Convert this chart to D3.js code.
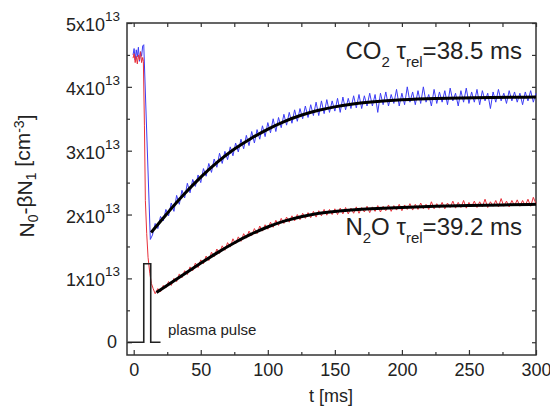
<!DOCTYPE html>
<html>
<head>
<meta charset="utf-8">
<script src="https://cdn.jsdelivr.net/npm/d3@7"></script>
<style>
body { margin: 0; background: #fff; }
text { font-family: "Liberation Sans", Arial, sans-serif; fill: #222; }
</style>
</head>
<body>
<div id="chart"></div>
<script>
// values in units of 1e13 cm^-3, time in ms
var bluePreT = [-0.5, 0.3, 1.1, 1.9, 2.7, 3.5, 4.3, 5.1, 5.9, 6.7, 7.5, 12.4],
    bluePreV = [4.50, 4.60, 4.42, 4.58, 4.47, 4.62, 4.40, 4.55, 4.48, 4.64, 4.66, 1.61];
var redPreT = [-0.5, 0.3, 1.1, 1.9, 2.7, 3.5, 4.3, 5.1, 5.9, 6.7, 7.2, 8.0, 8.7, 9.7, 10.7, 12.0, 13.2, 14.5],
    redPreV = [4.45, 4.52, 4.38, 4.48, 4.36, 4.50, 4.42, 4.55, 4.38, 4.46, 4.40, 3.40, 2.22, 1.70, 1.33, 1.08, 0.92, 0.84];

// noisy recordings, one sample every 2 ms
var blueStart = 14, redStart = 16, sampleStep = 2;
var blueV = [
    1.68, 1.86, 1.78, 1.97, 1.90, 2.08, 1.98, 2.18, 2.05, 2.30,
    2.16, 2.38, 2.26, 2.49, 2.34, 2.55, 2.44, 2.62, 2.50, 2.72,
    2.60, 2.80, 2.66, 2.87, 2.74, 2.96, 2.80, 2.99, 2.86, 3.06,
    2.92, 3.12, 2.98, 3.18, 3.03, 3.24, 3.08, 3.30, 3.12, 3.33,
    3.18, 3.39, 3.22, 3.44, 3.28, 3.50, 3.30, 3.52, 3.36, 3.57,
    3.40, 3.60, 3.43, 3.64, 3.46, 3.66, 3.50, 3.70, 3.52, 3.72,
    3.55, 3.76, 3.55, 3.78, 3.58, 3.80, 3.60, 3.78, 3.62, 3.82,
    3.60, 3.84, 3.64, 3.82, 3.66, 3.86, 3.67, 3.88, 3.66, 3.86,
    3.70, 3.90, 3.70, 3.88, 3.60, 3.90, 3.72, 3.92, 3.70, 3.88,
    3.74, 3.96, 3.70, 3.90, 3.72, 4.00, 3.76, 3.92, 3.72, 3.94,
    3.74, 4.00, 3.76, 3.88, 3.70, 3.96, 3.74, 3.92, 3.76, 3.94,
    3.72, 3.98, 3.78, 3.90, 3.70, 3.94, 3.76, 3.98, 3.74, 3.92,
    3.76, 3.96, 3.72, 3.94, 3.78, 3.90, 3.66, 3.92, 3.76, 3.96,
    3.78, 3.90, 3.74, 3.94, 3.78, 3.92, 3.76, 3.90, 3.72, 3.92,
    3.78, 3.94, 3.76, 3.90];
var redV = [
    0.76, 0.84, 0.79, 0.89, 0.85, 0.95, 0.89, 1.00, 0.95, 1.07,
    1.01, 1.12, 1.06, 1.18, 1.12, 1.24, 1.17, 1.29, 1.23, 1.35,
    1.28, 1.41, 1.34, 1.46, 1.39, 1.51, 1.44, 1.56, 1.49, 1.62,
    1.54, 1.65, 1.58, 1.70, 1.63, 1.74, 1.67, 1.78, 1.70, 1.82,
    1.74, 1.84, 1.77, 1.88, 1.80, 1.91, 1.83, 1.94, 1.86, 1.96,
    1.88, 1.98, 1.90, 2.00, 1.92, 2.02, 1.94, 2.03, 1.95, 2.05,
    1.96, 2.06, 1.98, 2.08, 1.99, 2.08, 2.00, 2.09, 2.00, 2.10,
    2.01, 2.11, 2.01, 2.10, 2.02, 2.12, 2.02, 2.11, 2.04, 2.13,
    2.03, 2.12, 2.05, 2.14, 2.04, 2.13, 2.06, 2.15, 2.05, 2.14,
    2.07, 2.16, 2.06, 2.15, 2.08, 2.17, 2.07, 2.16, 2.08, 2.18,
    2.09, 2.16, 2.08, 2.20, 2.09, 2.17, 2.10, 2.19, 2.09, 2.18,
    2.11, 2.21, 2.10, 2.19, 2.11, 2.22, 2.10, 2.19, 2.12, 2.21,
    2.11, 2.20, 2.12, 2.24, 2.11, 2.20, 2.13, 2.22, 2.12, 2.25,
    2.13, 2.21, 2.12, 2.22, 2.14, 2.23, 2.13, 2.22, 2.14, 2.24,
    2.13, 2.27, 2.17];

// exponential fits
var blueFitT = [13, 25, 37, 50, 62, 75, 87, 100, 112, 125, 137, 150, 162, 175, 200, 225, 250, 300],
    blueFitV = [1.72, 2.02, 2.31, 2.59, 2.82, 3.03, 3.19, 3.34, 3.46, 3.56, 3.63, 3.69, 3.73, 3.76, 3.80, 3.82, 3.83, 3.84];
var redFitT = [17, 25, 37, 50, 62, 75, 87, 100, 112, 125, 137, 150, 162, 175, 200, 225, 250, 275, 300],
    redFitV = [0.78, 0.89, 1.06, 1.24, 1.40, 1.56, 1.69, 1.81, 1.90, 1.97, 2.02, 2.05, 2.07, 2.09, 2.11, 2.13, 2.14, 2.15, 2.16];

// plasma pulse trace
var pulseT = [-4.5, 7.5, 7.5, 12.7, 12.7, 20],
    pulseV = [0, 0, 1.23, 1.23, 0, 0];

var xMajor = [0, 50, 100, 150, 200, 250, 300],
    xMinor = [25, 75, 125, 175, 225, 275],
    yMajor = [0, 1, 2, 3, 4, 5],
    yMinor = [0.5, 1.5, 2.5, 3.5, 4.5];

var W = 550, H = 412,
    m = {left: 127, top: 23, right: 14, bottom: 57},
    w = W - m.left - m.right,
    h = H - m.top - m.bottom;

var svg = d3.select("#chart").append("svg")
    .attr("width", W)
    .attr("height", H);

var x = d3.scaleLinear().domain([-5, 300]).range([m.left, m.left + w]),
    y = d3.scaleLinear().domain([-0.2, 5]).range([m.top + h, m.top]);

function pairs(ts, vs) {
    return ts.map(function (t, i) { return [t, vs[i]]; });
}
function sampled(start, vs) {
    return vs.map(function (v, i) { return [start + i * sampleStep, v]; });
}

var blueData = pairs(bluePreT, bluePreV).concat(sampled(blueStart, blueV)),
    redData = pairs(redPreT, redPreV).concat(sampled(redStart, redV));

var line = d3.line()
    .x(function (d) { return x(d[0]); })
    .y(function (d) { return y(d[1]); });
var smooth = d3.line()
    .curve(d3.curveBasis)
    .x(function (d) { return x(d[0]); })
    .y(function (d) { return y(d[1]); });

// axes: ticks point inward
function noLabel() { return ""; }
function addAxis(axis, tf) {
    var g = svg.append("g").attr("transform", tf).call(axis);
    g.select(".domain").remove();
    g.selectAll("line").attr("stroke", "#333").attr("stroke-width", 1.2);
    g.selectAll("text").style("font-size", "18px").attr("fill", "#222");
    return g;
}
var bottomY = "translate(0," + (m.top + h) + ")",
    topY = "translate(0," + m.top + ")",
    leftX = "translate(" + m.left + ",0)",
    rightX = "translate(" + (m.left + w) + ",0)";

addAxis(d3.axisBottom(x).tickValues(xMajor).tickSize(-5).tickPadding(8), bottomY);
addAxis(d3.axisBottom(x).tickValues(xMinor).tickSize(-3).tickFormat(noLabel), bottomY);
addAxis(d3.axisTop(x).tickValues(xMajor.concat(xMinor)).tickSize(-4).tickFormat(noLabel), topY);
addAxis(d3.axisRight(y).tickValues(yMajor.concat(yMinor)).tickSize(-4).tickFormat(noLabel), rightX);
addAxis(d3.axisLeft(y).tickValues(yMinor).tickSize(-3).tickFormat(noLabel), leftX);

var yl = addAxis(d3.axisLeft(y).tickValues(yMajor).tickSize(-5).tickPadding(10), leftX);
yl.selectAll("text").each(function (d) {
    var t = d3.select(this);
    if (d === 0) { t.text("0"); return; }
    t.text(null).attr("x", -7).attr("dy", "0.42em");
    t.append("tspan").text(d + "x10");
    t.append("tspan").attr("dy", "-10").style("font-size", "13.5px").text("13");
});

svg.append("rect")
    .attr("x", m.left).attr("y", m.top)
    .attr("width", w).attr("height", h)
    .attr("fill", "none")
    .attr("stroke", "#333")
    .attr("stroke-width", 1.5);

// data traces
svg.append("path").datum(blueData)
    .attr("d", line)
    .attr("fill", "none")
    .attr("stroke", "#3c3cf5")
    .attr("stroke-width", 1);
svg.append("path").datum(redData)
    .attr("d", line)
    .attr("fill", "none")
    .attr("stroke", "#e8303a")
    .attr("stroke-width", 1);

// fits
[pairs(blueFitT, blueFitV), pairs(redFitT, redFitV)].forEach(function (fit) {
    svg.append("path").datum(fit)
        .attr("d", smooth)
        .attr("fill", "none")
        .attr("stroke", "#000")
        .attr("stroke-width", 3);
});

svg.append("path").datum(pairs(pulseT, pulseV))
    .attr("d", line)
    .attr("fill", "none")
    .attr("stroke", "#222")
    .attr("stroke-width", 1.6);

svg.append("text")
    .attr("x", 168).attr("y", 335)
    .style("font-size", "15px")
    .text("plasma pulse");

// annotations
function label(yPos, mol, sub, rest, tau) {
    var t = svg.append("text")
        .attr("x", 522).attr("y", yPos)
        .attr("text-anchor", "end")
        .style("font-size", "24px");
    t.append("tspan").text(mol);
    t.append("tspan").attr("dy", "8").style("font-size", "15px").text(sub);
    t.append("tspan").attr("dy", "-8").text(rest + " \u03c4");
    t.append("tspan").attr("dy", "8").style("font-size", "15px").text("rel");
    t.append("tspan").attr("dy", "-8").text("=" + tau + " ms");
}
label(59, "CO", "2", "", "38.5");
label(235, "N", "2", "O", "39.2");

// axis titles
svg.append("text")
    .attr("x", 331).attr("y", 402)
    .attr("text-anchor", "middle")
    .style("font-size", "18px")
    .text("t [ms]");

var yt = svg.append("text")
    .attr("transform", "translate(34,176) rotate(-90)")
    .attr("text-anchor", "middle")
    .style("font-size", "21px");
yt.append("tspan").text("N");
yt.append("tspan").attr("dy", "0.3em").style("font-size", "14px").text("0");
yt.append("tspan").attr("dy", "-0.3em").text("-\u03b2N");
yt.append("tspan").attr("dy", "0.3em").style("font-size", "14px").text("1");
yt.append("tspan").attr("dy", "-0.3em").text(" [cm");
yt.append("tspan").attr("dy", "-0.45em").style("font-size", "14px").text("-3");
yt.append("tspan").attr("dy", "0.45em").text("]");
</script>
</body>
</html>
